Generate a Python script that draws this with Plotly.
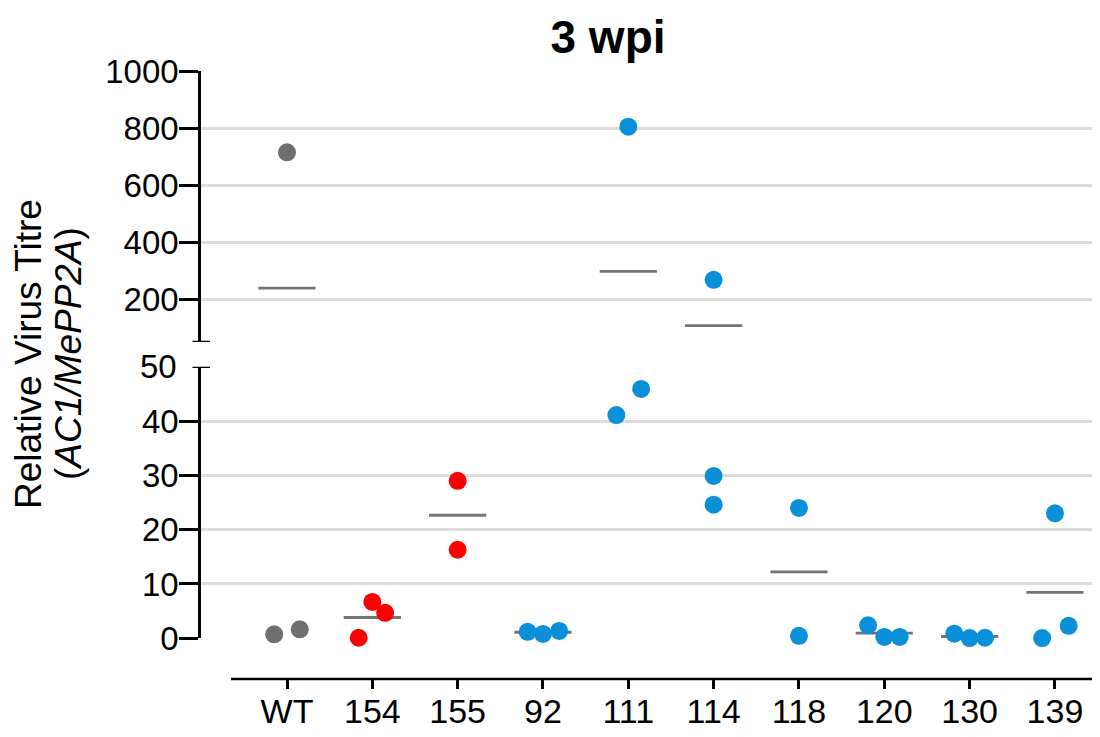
import numpy as np
import plotly.graph_objects as go

# ---------------- data ----------------
categories = ["WT", "154", "155", "92", "111", "114", "118", "120", "130", "139"]
values = {
    "WT":  [715, 0.74, 1.66],
    "154": [6.7, 4.7, 0.1],
    "155": [29.0, 16.3],
    "92":  [1.2, 0.8, 1.35],
    "111": [805, 41.1, 45.9],
    "114": [268, 29.9, 24.6],
    "118": [24.0, 0.45],
    "120": [2.4, 0.25, 0.25],
    "130": [0.85, 0.05, 0.1],
    "139": [23.0, 0.05, 2.3],
}
# horizontal scatter spread (category units) to keep dots from overlapping
jitter = {
    "WT":  [0, -0.15, 0.15],
    "154": [0, 0.15, -0.16],
    "155": [0, 0],
    "92":  [-0.18, 0, 0.19],
    "111": [0, -0.14, 0.15],
    "114": [0, 0, 0],
    "118": [0, 0],
    "120": [-0.19, 0, 0.18],
    "130": [-0.18, 0, 0.18],
    "139": [0, -0.15, 0.16],
}
group_kind = {"WT": "wt", "154": "red", "155": "red"}
colors = {"wt": "#6f6f6f", "red": "#ff0000", "blue": "#0a90d8"}
break_value = 50
top_ticks = [200, 400, 600, 800, 1000]
bottom_ticks = [0, 10, 20, 30, 40]
y_title_lines = ["Relative Virus Titre", "(<i>AC1/MePP2A</i>)"]

# ---------------- layout geometry ----------------
# the page body has an 8px margin, so work in screen pixels and convert
OFF = 8
W, H = 1100 - OFF, 737 - OFF
ML, MR, MT = 201 - OFF, 0, 71 - OFF
X_AXIS_SCREEN = 679
MB = H - (X_AXIS_SCREEN - OFF)
ph = H - MT - MB
pw = W - ML - MR


def py(sy):  # screen pixel y -> paper y
    return (X_AXIS_SCREEN - sy) / ph


def pxx(sx):  # screen pixel x -> paper x
    return (sx - 201) / pw


top_dom = [py(342), 1.0]
bot_dom = [py(638.3), py(366.7)]

FONT = "Liberation Sans, Arial, Helvetica, sans-serif"

fig = go.Figure()

line_traces, marker_traces = [], []
for i, cat in enumerate(categories):
    vals = np.array(values[cat], dtype=float)
    offs = np.array(jitter[cat], dtype=float)
    col = colors[group_kind.get(cat, "blue")]
    xs = i + offs
    hi = vals >= break_value
    for mask, ax in ((hi, "y"), (~hi, "y2")):
        if mask.any():
            marker_traces.append(go.Scatter(
                x=xs[mask], y=vals[mask], mode="markers", yaxis=ax,
                marker=dict(size=18, color=col, line=dict(width=0)),
                cliponaxis=False, showlegend=False))
    m = vals.mean()
    line_traces.append(go.Scatter(
        x=[i - 0.335, i + 0.335], y=[m, m], mode="lines",
        yaxis="y" if m >= break_value else "y2",
        line=dict(color="#747474", width=2.8),
        cliponaxis=False, showlegend=False))

fig.add_traces(line_traces + marker_traces)

n = len(categories)
x_left = (201 - 287) / 85.33
x_right = (1100 - 287) / 85.33

axis_common = dict(
    showline=True, linecolor="black", linewidth=2.5,
    ticks="outside", ticklen=19, tickwidth=2.5, tickcolor="black",
    showgrid=True, gridcolor="#dcdcdc", gridwidth=2.5,
    zeroline=False, ticklabelstandoff=-6,
    tickfont=dict(family=FONT, size=33, color="black"),
    anchor="x", fixedrange=True,
)

fig.update_layout(
    width=W, height=H,
    margin=dict(l=ML, r=MR, t=MT, b=MB, pad=0),
    paper_bgcolor="white", plot_bgcolor="white",
    showlegend=False,
    title=dict(text="<b>3 wpi</b>", x=(608 - OFF) / W, xref="container", xanchor="center",
               y=1 - (37 - OFF) / H, yref="container", yanchor="middle",
               font=dict(family=FONT, size=46, color="black")),
    xaxis=dict(range=[x_left, x_right], tickmode="array",
               tickvals=list(range(n)), ticktext=categories,
               showline=False, showgrid=False, zeroline=False,
               ticks="outside", ticklen=9, tickwidth=2.5, tickcolor="black",
               ticklabelstandoff=-7,
               tickfont=dict(family=FONT, size=34, color="black"),
               anchor="free", position=0, fixedrange=True),
    yaxis=dict(domain=top_dom, range=[break_value, 1000], tickmode="array",
               tickvals=top_ticks, **axis_common),
    yaxis2=dict(domain=bot_dom, range=[0, break_value], tickmode="array",
                tickvals=bottom_ticks, **axis_common),
)

# x axis baseline (offset from the y axis, as in the reference)
fig.add_shape(type="line", xref="x", yref="paper", x0=(231 - 287) / 85.33, x1=x_right,
              y0=0, y1=0, line=dict(color="black", width=2.5), layer="above")

# axis-break caps
cap0, cap1 = pxx(192.5), pxx(210)
for yr in ("y", "y2"):
    fig.add_shape(type="line", xref="paper", yref=yr, x0=cap0, x1=cap1,
                  y0=break_value, y1=break_value,
                  line=dict(color="black", width=2.5), layer="above")

# "50" label of the lower segment (that end only carries a break cap)
fig.add_annotation(x=pxx(179), xref="paper", y=break_value, yref="y2",
                   text=str(break_value), showarrow=False, xanchor="right",
                   yanchor="middle", font=dict(family=FONT, size=33, color="black"))

# y-axis title spanning both segments (two lines)
for sx, txt in zip((28, 68), y_title_lines):
    fig.add_annotation(x=pxx(sx), xref="paper", y=py(354), yref="paper",
                       text=txt, showarrow=False, textangle=-90,
                       xanchor="center", yanchor="middle",
                       font=dict(family=FONT, size=37, color="black"))

fig.write_html("out.html")
